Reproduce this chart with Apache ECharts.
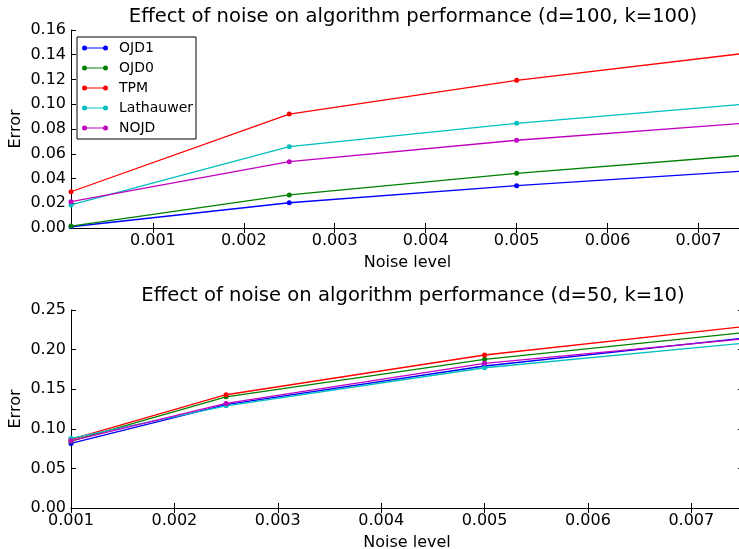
<!DOCTYPE html>
<html>
<head>
<meta charset="utf-8">
<script src="https://cdn.jsdelivr.net/npm/echarts@6/dist/echarts.min.js"></script>
<style>
  html, body { margin: 0; padding: 0; background: #fff; }
  #chart { width: 739px; height: 549px; }
</style>
</head>
<body>
<div id="chart"></div>
<script>
// data
const names = ["OJD1", "OJD0", "TPM", "Lathauwer", "NOJD"];
const colors = ["#0000ff", "#008000", "#ff0000", "#00bfbf", "#bf00bf"];

const noiseTop = [0.0001, 0.0025, 0.005, 0.0075];
const topOJD1 = [0.0010, 0.0204, 0.0342, 0.0460];
const topOJD0 = [0.0016, 0.0267, 0.0442, 0.0587];
const topTPM = [0.0293, 0.0921, 0.1193, 0.1411];
const topLathauwer = [0.0186, 0.0657, 0.0846, 0.1000];
const topNOJD = [0.0213, 0.0536, 0.0709, 0.0846];

const noiseBottom = [0.001, 0.0025, 0.005, 0.0075];
const botOJD1 = [0.0815, 0.1306, 0.1793, 0.2143];
const botOJD0 = [0.0844, 0.1404, 0.1877, 0.2214];
const botTPM = [0.0865, 0.1430, 0.1932, 0.2290];
const botLathauwer = [0.0878, 0.1290, 0.1771, 0.2080];
const botNOJD = [0.0848, 0.1320, 0.1827, 0.2134];

const xTicks = [0.001, 0.002, 0.003, 0.004, 0.005, 0.006, 0.007];

const topSets = [topOJD1, topOJD0, topTPM, topLathauwer, topNOJD];
const botSets = [botOJD1, botOJD0, botTPM, botLathauwer, botNOJD];

const FONT = "DejaVu Sans";
const chart = echarts.init(document.getElementById("chart"));

function pairs(xs, ys) {
  return xs.map((x, i) => [x, ys[i]]);
}

function makeSeries(xs, sets, gridIdx) {
  return sets.map((ys, i) => ({
    name: names[i],
    type: "line",
    xAxisIndex: gridIdx * 2,
    yAxisIndex: gridIdx * 2,
    data: pairs(xs, ys),
    symbol: "circle",
    symbolSize: 5,
    showSymbol: true,
    clip: false,
    animation: false,
    lineStyle: { color: colors[i], width: 1.3 },
    itemStyle: { color: colors[i] },
    emphasis: { disabled: true },
  }));
}

const tick = { show: true, inside: true, length: 5, lineStyle: { color: "#000" } };
const line = { show: true, lineStyle: { color: "#000", width: 1 } };
const label = { fontFamily: FONT, fontSize: 16, color: "#000", margin: 5 };

function xAxes(gridIdx, min, max) {
  return [
    {
      type: "value",
      gridIndex: gridIdx,
      min: min,
      max: max,
      position: "bottom",
      name: "Noise level",
      nameLocation: "middle",
      nameGap: 27,
      nameMoveOverlap: false,
      nameTextStyle: { fontFamily: FONT, fontSize: 16, color: "#000" },
      axisLine: line,
      axisTick: Object.assign({}, tick, { customValues: xTicks }),
      splitLine: { show: false },
      axisLabel: Object.assign({}, label, {
        customValues: xTicks,
        formatter: (v) => v.toFixed(3),
      }),
    },
    {
      type: "value",
      gridIndex: gridIdx,
      min: min,
      max: max,
      position: "top",
      axisLine: line,
      axisTick: Object.assign({}, tick, { customValues: xTicks }),
      axisLabel: { show: false },
      splitLine: { show: false },
    },
  ];
}

function yAxes(gridIdx, max, interval) {
  return [
    {
      type: "value",
      gridIndex: gridIdx,
      min: 0,
      max: max,
      interval: interval,
      position: "left",
      name: "Error",
      nameLocation: "middle",
      nameGap: 47,
      nameMoveOverlap: false,
      nameTextStyle: { fontFamily: FONT, fontSize: 16, color: "#000" },
      axisLine: line,
      axisTick: tick,
      splitLine: { show: false },
      axisLabel: Object.assign({}, label, { formatter: (v) => v.toFixed(2) }),
    },
    {
      type: "value",
      gridIndex: gridIdx,
      min: 0,
      max: max,
      interval: interval,
      position: "right",
      axisLine: line,
      axisTick: tick,
      axisLabel: { show: false },
      splitLine: { show: false },
    },
  ];
}

const titleStyle = { fontFamily: FONT, fontSize: 19.6, fontWeight: "normal", color: "#000" };

const option = {
  backgroundColor: "#fff",
  animation: false,
  title: [
    {
      text: "Effect of noise on algorithm performance (d=100, k=100)",
      left: 413,
      top: 7,
      textAlign: "center",
      padding: 0,
      textStyle: titleStyle,
    },
    {
      text: "Effect of noise on algorithm performance (d=50, k=10)",
      left: 413,
      top: 286,
      textAlign: "center",
      padding: 0,
      textStyle: titleStyle,
    },
  ],
  legend: {
    data: names,
    orient: "vertical",
    left: 77,
    top: 37,
    padding: [4, 3, 4, 5],
    itemGap: 6,
    itemWidth: 26,
    itemHeight: 5,
    icon: "path://M0,2.5A2.5,2.5 0 1,1 5,2.5A2.5,2.5 0 1,1 0,2.5Z M2.5,1.9L23.5,1.9L23.5,3.1L2.5,3.1Z M21,2.5A2.5,2.5 0 1,1 26,2.5A2.5,2.5 0 1,1 21,2.5Z",
    backgroundColor: "#fff",
    borderColor: "#000",
    borderWidth: 1,
    borderRadius: 0,
    selectedMode: false,
    textStyle: { fontFamily: FONT, fontSize: 14, color: "#000", padding: [0, 0, 0, 6] },
  },
  grid: [
    { left: 71, top: 30, height: 198, right: -5, containLabel: false, outerBoundsMode: "none" },
    { left: 71, top: 310, height: 198, right: -4, containLabel: false, outerBoundsMode: "none" },
  ],
  xAxis: [...xAxes(0, 0.0001, 0.0075), ...xAxes(1, 0.001, 0.0075)],
  yAxis: [...yAxes(0, 0.16, 0.02), ...yAxes(1, 0.25, 0.05)],
  series: [
    ...makeSeries(noiseTop, topSets, 0),
    ...makeSeries(noiseBottom, botSets, 1),
  ],
};

chart.setOption(option);
</script>
</body>
</html>
